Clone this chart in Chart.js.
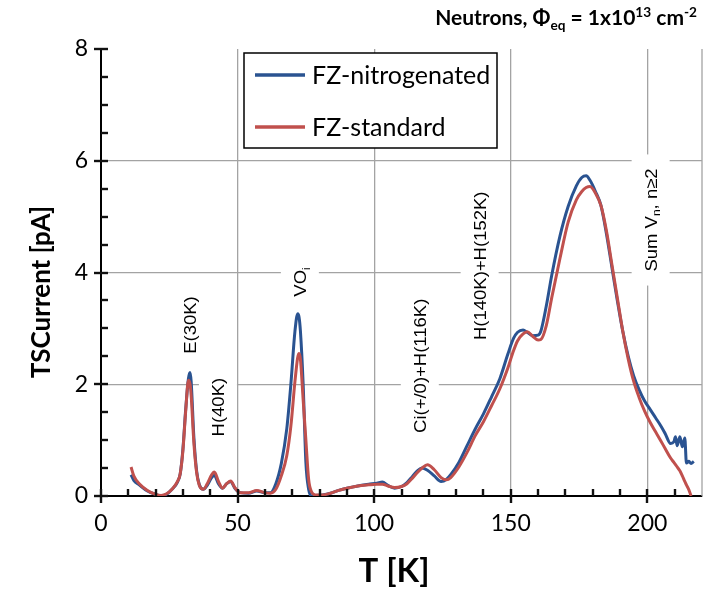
<!DOCTYPE html>
<html>
<head>
<meta charset="utf-8">
<script src="https://cdn.jsdelivr.net/npm/chart.js@4.4.1/dist/chart.umd.min.js"></script>
<style>
  html, body { margin: 0; padding: 0; background: #fff; }
</style>
</head>
<body>
<canvas id="chart" width="707" height="590"></canvas>
<script>
// temperatures in K, shared by both samples
const temps = [11, 12, 14, 17, 20, 22, 24, 26, 28, 29, 30, 31, 32, 32.6, 33, 34, 35, 36, 37.5, 39,
  40.5, 41.5, 43, 44.5, 46, 47.5, 49, 51, 54, 57, 60, 62, 64, 66, 68, 69.5, 71, 72, 72.5, 73,
  74, 75, 76, 77, 78.5, 81, 84, 87, 90, 94, 98, 101, 103, 105, 107.5, 110, 112, 114, 116, 117.5,
  119.5, 122, 124.5, 126.5, 128, 131, 134, 137, 140, 143, 146, 149, 151, 152.5, 154.5, 156, 158, 160, 161, 163,
  165, 168, 171, 174, 176, 177.6, 179, 181, 183, 185, 187, 189, 191, 193, 195, 197, 199, 201, 203, 205,
  206.5, 208.5, 209.7, 210.3, 210.9, 211.9, 212.8, 213.7, 214.3, 215.2, 216, 217];

// TSC current in pA
const nitrogenated = [0.38, 0.28, 0.20, 0.09, 0.03, 0.00, 0.03, 0.12, 0.25, 0.40, 0.85, 1.55, 2.10, 2.21, 2.05, 1.05, 0.45, 0.20, 0.12, 0.20,
  0.33, 0.37, 0.22, 0.14, 0.22, 0.26, 0.14, 0.06, 0.05, 0.09, 0.06, 0.06, 0.22, 0.58, 1.20, 2.00, 2.95, 3.26, 3.20, 2.95,
  2.00, 0.60, 0.12, 0.00, 0.01, 0.02, 0.05, 0.10, 0.14, 0.18, 0.21, 0.23, 0.25, 0.19, 0.14, 0.17, 0.24, 0.35, 0.46, 0.50,
  0.46, 0.36, 0.26, 0.30, 0.38, 0.60, 0.90, 1.20, 1.47, 1.78, 2.10, 2.55, 2.82, 2.93, 2.97, 2.93, 2.87, 2.88, 2.95, 3.40,
  3.95, 4.65, 5.18, 5.55, 5.70, 5.73, 5.65, 5.45, 5.20, 4.70, 4.10, 3.50, 2.95, 2.50, 2.15, 1.90, 1.70, 1.55, 1.40, 1.25,
  1.12, 0.94, 0.97, 1.06, 0.90, 1.06, 0.88, 1.04, 0.59, 0.62, 0.58, 0.62];

const standard = [0.52, 0.36, 0.22, 0.10, 0.03, 0.01, 0.04, 0.12, 0.26, 0.40, 0.82, 1.52, 2.07, 2.00, 1.80, 0.95, 0.42, 0.19, 0.12, 0.23,
  0.38, 0.43, 0.26, 0.14, 0.22, 0.27, 0.15, 0.06, 0.06, 0.10, 0.06, 0.05, 0.12, 0.36, 0.72, 1.25, 2.05, 2.48, 2.55, 2.45,
  1.72, 1.00, 0.30, 0.08, 0.02, 0.02, 0.05, 0.10, 0.14, 0.18, 0.20, 0.21, 0.21, 0.18, 0.15, 0.17, 0.22, 0.32, 0.43, 0.50,
  0.56, 0.47, 0.33, 0.29, 0.33, 0.52, 0.78, 1.08, 1.33, 1.62, 1.92, 2.30, 2.60, 2.78, 2.90, 2.94, 2.86, 2.79, 2.80, 3.05,
  3.55, 4.25, 4.90, 5.30, 5.45, 5.52, 5.54, 5.42, 5.20, 4.75, 4.15, 3.55, 2.95, 2.45, 2.05, 1.76, 1.52, 1.32, 1.15, 0.98,
  0.85, 0.68, 0.60, 0.56, 0.52, 0.45, 0.36, 0.26, 0.20, 0.11, 0.00, null];

const xTicks = [0, 50, 100, 150, 200];
const yTicks = [0, 2, 4, 6, 8];
const xMinor = [10, 20, 30, 40, 60, 70, 80, 90, 110, 120, 130, 140, 160, 170, 180, 190, 210];
const yMinor = [0.5, 1, 1.5, 2.5, 3, 3.5, 4.5, 5, 5.5, 6.5, 7, 7.5];

// peak labels: text parts and centre in data units (T, pA)
const peakLabels = [
  { parts: [['E(30K)']], t: 32.5, i: 3.06 },
  { parts: [['H(40K)']], t: 42.8, i: 1.59 },
  { parts: [['VO'], ['i', 'sub']], t: 72.8, i: 3.83 },
  { parts: [['Ci(+/0)+H(116K)']], t: 116.7, i: 2.33 },
  { parts: [['H(140K)+H(152K)']], t: 138.6, i: 4.12 },
  { parts: [['Sum V'], ['n', 'sub'], [', n\u22652']], t: 201.2, i: 4.94 }
];

const titleParts = [['Neutrons, \u03A6'], ['eq', 'sub'], [' = 1x10'], ['13', 'sup'], [' cm'], ['-2', 'sup']];
const xTitle = 'T [K]';
const yTitle = 'TSCurrent [pA]';

const BLUE = '#2a5391';
const RED = '#c0504d';
const GRID = '#a3a3a3';

function richText(ctx, parts, x, y, size, weight, family, draw) {
  let cx = x;
  for (const [t, kind] of parts) {
    const s = kind ? size * 0.65 : size;
    ctx.font = `${weight} ${s}px ${family}`;
    const dy = kind === 'sub' ? size * 0.22 : kind === 'sup' ? -size * 0.4 : 0;
    if (draw) ctx.fillText(t, cx, y + dy);
    cx += ctx.measureText(t).width;
  }
  return cx - x;
}

const decor = {
  id: 'decor',
  beforeDatasetsDraw(chart) {
    const ctx = chart.ctx;
    const area = chart.chartArea;
    const sx = chart.scales.x, sy = chart.scales.y;
    ctx.save();
    ctx.strokeStyle = GRID;
    ctx.lineWidth = 1.3;
    ctx.beginPath();
    ctx.moveTo(area.right, area.top);
    ctx.lineTo(area.right, area.bottom);
    ctx.stroke();

    // peak labels with white boxes
    const stretch = 1.12, size = 16.5, fam = '"Liberation Sans", Arial, sans-serif';
    peakLabels.forEach(lb => {
      ctx.save();
      ctx.translate(sx.getPixelForValue(lb.t), sy.getPixelForValue(lb.i));
      ctx.rotate(-Math.PI / 2);
      ctx.scale(stretch, 1);
      const w = richText(ctx, lb.parts, 0, 0, size, 'normal', fam, false);
      const pad = 14 / stretch;
      ctx.fillStyle = '#fff';
      ctx.fillRect(-w / 2 - pad, -19, w + 2 * pad, 38);
      ctx.fillStyle = '#000';
      ctx.textBaseline = 'alphabetic';
      richText(ctx, lb.parts, -w / 2, 6, size, 'normal', fam, true);
      ctx.restore();
    });
    ctx.restore();
  },
  afterDraw(chart) {
    const ctx = chart.ctx;
    const area = chart.chartArea;
    const sx = chart.scales.x, sy = chart.scales.y;
    ctx.save();

    // tick marks: majors cross the axis, minors point inward
    ctx.fillStyle = '#111';
    xTicks.forEach(v => {
      const px = Math.round(sx.getPixelForValue(v));
      ctx.fillRect(px - 1.2, area.bottom - 7, 2.4, 14);
    });
    xMinor.forEach(v => {
      const px = Math.round(sx.getPixelForValue(v));
      ctx.fillRect(px - 1.2, area.bottom - 7, 2.4, 7);
    });
    yTicks.forEach(v => {
      const py = Math.round(sy.getPixelForValue(v));
      ctx.fillRect(area.left - 7, py - 1.2, 14, 2.4);
    });
    yMinor.forEach(v => {
      const py = Math.round(sy.getPixelForValue(v));
      ctx.fillRect(area.left, py - 1.2, 7, 2.4);
    });

    // legend box
    ctx.fillStyle = '#fff';
    ctx.fillRect(244, 53, 253, 95);
    ctx.strokeStyle = '#000';
    ctx.lineWidth = 1.5;
    ctx.strokeRect(244, 53, 253, 95);
    chart.data.datasets.forEach((ds, k) => {
      const ly = 75 + k * 52;
      ctx.strokeStyle = ds.borderColor;
      ctx.lineWidth = 3.5;
      ctx.beginPath();
      ctx.moveTo(255, ly); ctx.lineTo(305, ly);
      ctx.stroke();
      ctx.fillStyle = '#000';
      ctx.font = '25px Lato';
      ctx.textBaseline = 'middle';
      ctx.fillText(ds.label, 312, ly + 1);
    });

    // axis titles
    ctx.fillStyle = '#000';
    ctx.textAlign = 'center';
    ctx.textBaseline = 'middle';
    ctx.font = 'bold 33px Lato';
    ctx.fillText(xTitle, 394, 571);
    ctx.save();
    ctx.translate(42, 292);
    ctx.rotate(-Math.PI / 2);
    ctx.font = 'bold 26px Lato';
    ctx.fillText(yTitle, 0, 0);
    ctx.restore();

    // title
    ctx.textAlign = 'left';
    ctx.textBaseline = 'alphabetic';
    const tw = richText(ctx, titleParts, 0, 0, 21, 'bold', 'Lato', false);
    richText(ctx, titleParts, 697 - tw, 25, 21, 'bold', 'Lato', true);
    ctx.restore();
  }
};

const chartCtx = document.getElementById('chart').getContext('2d');

new Chart(chartCtx, {
  type: 'line',
  data: {
    datasets: [
      {
        label: 'FZ-nitrogenated',
        data: temps.map((t, k) => ({ x: t, y: nitrogenated[k] })),
        borderColor: BLUE,
        borderWidth: 3,
        pointRadius: 0,
        cubicInterpolationMode: 'monotone',
        order: 1
      },
      {
        label: 'FZ-standard',
        data: temps.map((t, k) => ({ x: t, y: standard[k] })),
        borderColor: RED,
        borderWidth: 3,
        pointRadius: 0,
        cubicInterpolationMode: 'monotone',
        order: 0
      }
    ]
  },
  options: {
    responsive: false,
    animation: false,
    layout: { padding: { left: 0, right: 5, top: 49, bottom: 0 }, autoPadding: false },
    plugins: { legend: { display: false }, tooltip: { enabled: false } },
    scales: {
      x: {
        type: 'linear',
        min: 0,
        max: 220,
        afterBuildTicks: s => { s.ticks = xTicks.map(v => ({ value: v })); },
        afterFit: s => { s.height = 94; },
        grid: {
          color: c => (c.tick && c.tick.value > 0 ? GRID : 'rgba(0,0,0,0)'),
          lineWidth: 1.3,
          drawTicks: false
        },
        border: { display: true, color: '#000', width: 2 },
        ticks: { font: { family: 'Lato', size: 23 }, color: '#000', padding: 14, maxRotation: 0 }
      },
      y: {
        type: 'linear',
        min: 0,
        max: 8,
        afterBuildTicks: s => { s.ticks = yTicks.map(v => ({ value: v })); },
        afterFit: s => { s.width = 101; },
        grid: {
          color: c => (c.tick && c.tick.value > 0 && c.tick.value < 8 ? GRID : 'rgba(0,0,0,0)'),
          lineWidth: 1.3,
          drawTicks: false
        },
        border: { display: true, color: '#000', width: 2 },
        ticks: { font: { family: 'Lato', size: 23 }, color: '#000', padding: 13 }
      }
    }
  },
  plugins: [decor]
});
</script>
</body>
</html>
